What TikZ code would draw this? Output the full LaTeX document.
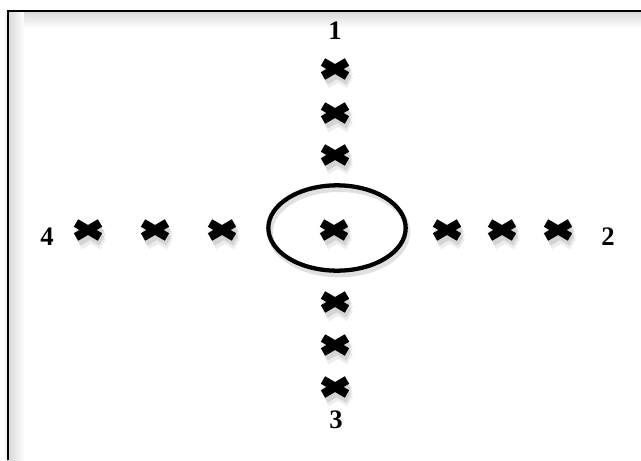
\documentclass[tikz,border=0pt]{standalone}
\usepackage{fontspec}
\setmainfont{Liberation Serif}
\usetikzlibrary{shapes.geometric}
\tikzset{
  armline/.style={line width=6.5pt},
  lbl/.style={font=\fontsize{20}{22}\selectfont\bfseries, inner sep=0pt},
  pics/xmark/.style={code={
    \coordinate (-c) at (0,0);
    \begin{scope}[shift={(3,7)}]
      \draw[armline, black, opacity=0.07, line width=9pt] (-12,-7) -- (12,7) (-12,7) -- (12,-7);
    \end{scope}
    \begin{scope}[shift={(2,4)}]
      \draw[armline, black, opacity=0.10, line width=8pt] (-12,-7) -- (12,7) (-12,7) -- (12,-7);
    \end{scope}
    \draw[armline, black] (-12,-7) -- (12,7) (-12,7) -- (12,-7);
  }}
}
\begin{document}
\begin{tikzpicture}[x=0.75pt,y=-0.75pt]
\useasboundingbox (0,0) rectangle (641,460);
\fill[white] (0,0) rectangle (641,460);
% frame inner shadow
\shade[top color=black!15, bottom color=white] (9,12) rectangle (641,28);
\shade[left color=black!15, right color=white] (9,12) rectangle (24,460);
\shade[left color=white, right color=black!12] (4,12) rectangle (8,460);
\draw[line width=1.9pt] (8,460) -- (8,11) -- (641,11);
% ring
\node[draw, ellipse, line width=3.2pt, minimum width=103pt, minimum height=64pt,
      preaction={draw, black, opacity=0.12, line width=4pt, transform canvas={shift={(1.5pt,-3pt)}}}]
      (ring) at (337,228) {};
% crosses
\pic (v1) at (335,69) {xmark};
\pic (v2) at (335,113) {xmark};
\pic (v3) at (335,155) {xmark};
\pic (c) at (334,230) {xmark};
\pic (v5) at (335,302) {xmark};
\pic (v6) at (335,345) {xmark};
\pic (v7) at (335,387) {xmark};
\pic (h1) at (88,230) {xmark};
\pic (h2) at (155,230) {xmark};
\pic (h3) at (222,230) {xmark};
\pic (h5) at (447,230) {xmark};
\pic (h6) at (502,230) {xmark};
\pic (h7) at (558,230) {xmark};
% labels
\node[lbl] (l1) at (335,31) {1};
\node[lbl] (l2) at (608,237) {2};
\node[lbl] (l3) at (336,420) {3};
\node[lbl] (l4) at (47,237) {4};
\end{tikzpicture}
\end{document}
